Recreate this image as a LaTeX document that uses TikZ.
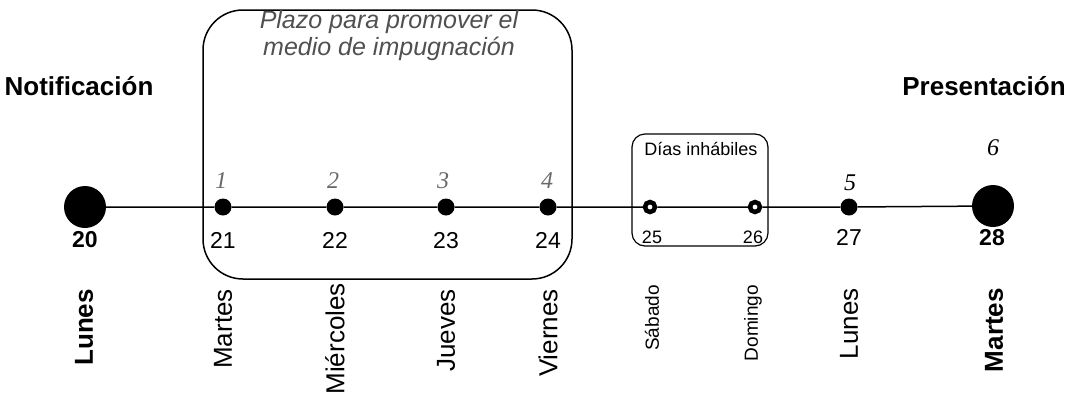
\documentclass[tikz,border=0pt]{standalone}
\usepackage{fontspec}
\setmainfont{Liberation Sans}
\newfontfamily\countfont{Liberation Serif}
\usepackage{tikz}
\usetikzlibrary{positioning}
\usepackage{xcolor}
\definecolor{plazogray}{RGB}{80,80,80}
\definecolor{countgray}{RGB}{105,105,105}

\tikzset{
  bigdot/.style={circle, fill=black, inner sep=0pt, minimum size=42pt},
  daydot/.style={circle, fill=black, inner sep=0pt, minimum size=17pt},
  offdot/.style={circle, draw=black, fill=white, line width=4.5pt, inner sep=0pt, minimum size=10pt},
  datenum/.style={anchor=base, inner sep=0pt, font=\fontsize{23}{23}\selectfont},
  offnum/.style={anchor=base, inner sep=0pt, font=\fontsize{18}{18}\selectfont},
  dayname/.style={rotate=90, anchor=east, inner sep=0pt, font=\fontsize{26}{26}\selectfont},
  offname/.style={rotate=90, anchor=east, inner sep=0pt, font=\fontsize{19}{19}\selectfont},
  countnum/.style={anchor=base, inner sep=0pt, font=\fontsize{24}{24}\countfont\itshape},
  headline/.style={anchor=base, inner sep=0pt, font=\fontsize{26}{26}\selectfont\bfseries},
}

\begin{document}
\begin{tikzpicture}[x=1pt, y=-1pt]
  \useasboundingbox (0,0) rectangle (1074,394);
  % periods
  \draw[line width=1.5pt, rounded corners=40pt] (203,10) rectangle (572,279);
  \draw[line width=1.2pt, rounded corners=13pt] (632,134) rectangle (768,246);
  \node[inner sep=0pt, align=center, text=plazogray,
        font=\fontsize{25}{27}\selectfont\itshape] (plazo) at (389,36)
        {Plazo para promover el\\medio de impugnación};
  \node[inner sep=0pt, font=\fontsize{18}{18}\selectfont] (inhabiles) at (701,149) {Días inhábiles};
  % days on the line
  \node[bigdot] (d20) at (85,207) {};
  \node[daydot] (d21) at (223,207) {};
  \node[daydot] (d22) at (335,207) {};
  \node[daydot] (d23) at (446,207) {};
  \node[daydot] (d24) at (548,207) {};
  \node[offdot] (d25) at (650,207) {};
  \node[offdot] (d26) at (755,207) {};
  \node[daydot] (d27) at (849,207) {};
  \node[bigdot] (d28) at (993,206) {};
  \draw[line width=1.5pt] (d20) -- (d21) -- (d22) -- (d23) -- (d24) -- (d25) -- (d26) -- (d27) -- (d28);
  % counting
  \node[countnum, text=countgray] (c1) at (221,188) {1};
  \node[countnum, text=countgray] (c2) at (333,188) {2};
  \node[countnum, text=countgray] (c3) at (443,188) {3};
  \node[countnum, text=countgray] (c4) at (547,188) {4};
  \node[countnum] (c5) at (850,190) {5};
  \node[countnum] (c6) at (993,155) {6};
  % dates
  \node[datenum, font=\fontsize{23}{23}\selectfont\bfseries] (n20) at (85,247) {20};
  \node[datenum] (n21) at (223,248) {21};
  \node[datenum] (n22) at (335,248) {22};
  \node[datenum] (n23) at (446,248) {23};
  \node[datenum] (n24) at (548,248) {24};
  \node[offnum] (n25) at (652,243) {25};
  \node[offnum] (n26) at (753,243) {26};
  \node[datenum] (n27) at (849,245) {27};
  \node[datenum, font=\fontsize{23}{23}\selectfont\bfseries] (n28) at (992,245) {28};
  % day names
  \node[dayname, font=\fontsize{26}{26}\selectfont\bfseries] (w20) at (84,289) {Lunes};
  \node[dayname] (w21) at (223,289) {Martes};
  \node[dayname] (w22) at (335,283) {Miércoles};
  \node[dayname] (w23) at (446,289) {Jueves};
  \node[dayname] (w24) at (548,289) {Viernes};
  \node[offname] (w25) at (652,285) {Sábado};
  \node[offname] (w26) at (753,285) {Domingo};
  \node[dayname] (w27) at (849,288) {Lunes};
  \node[dayname, font=\fontsize{26}{26}\selectfont\bfseries] (w28) at (994,288) {Martes};
  % events
  \node[headline] (notif) at (79,95) {Notificación};
  \node[headline] (present) at (984,95) {Presentación};
\end{tikzpicture}
\end{document}
